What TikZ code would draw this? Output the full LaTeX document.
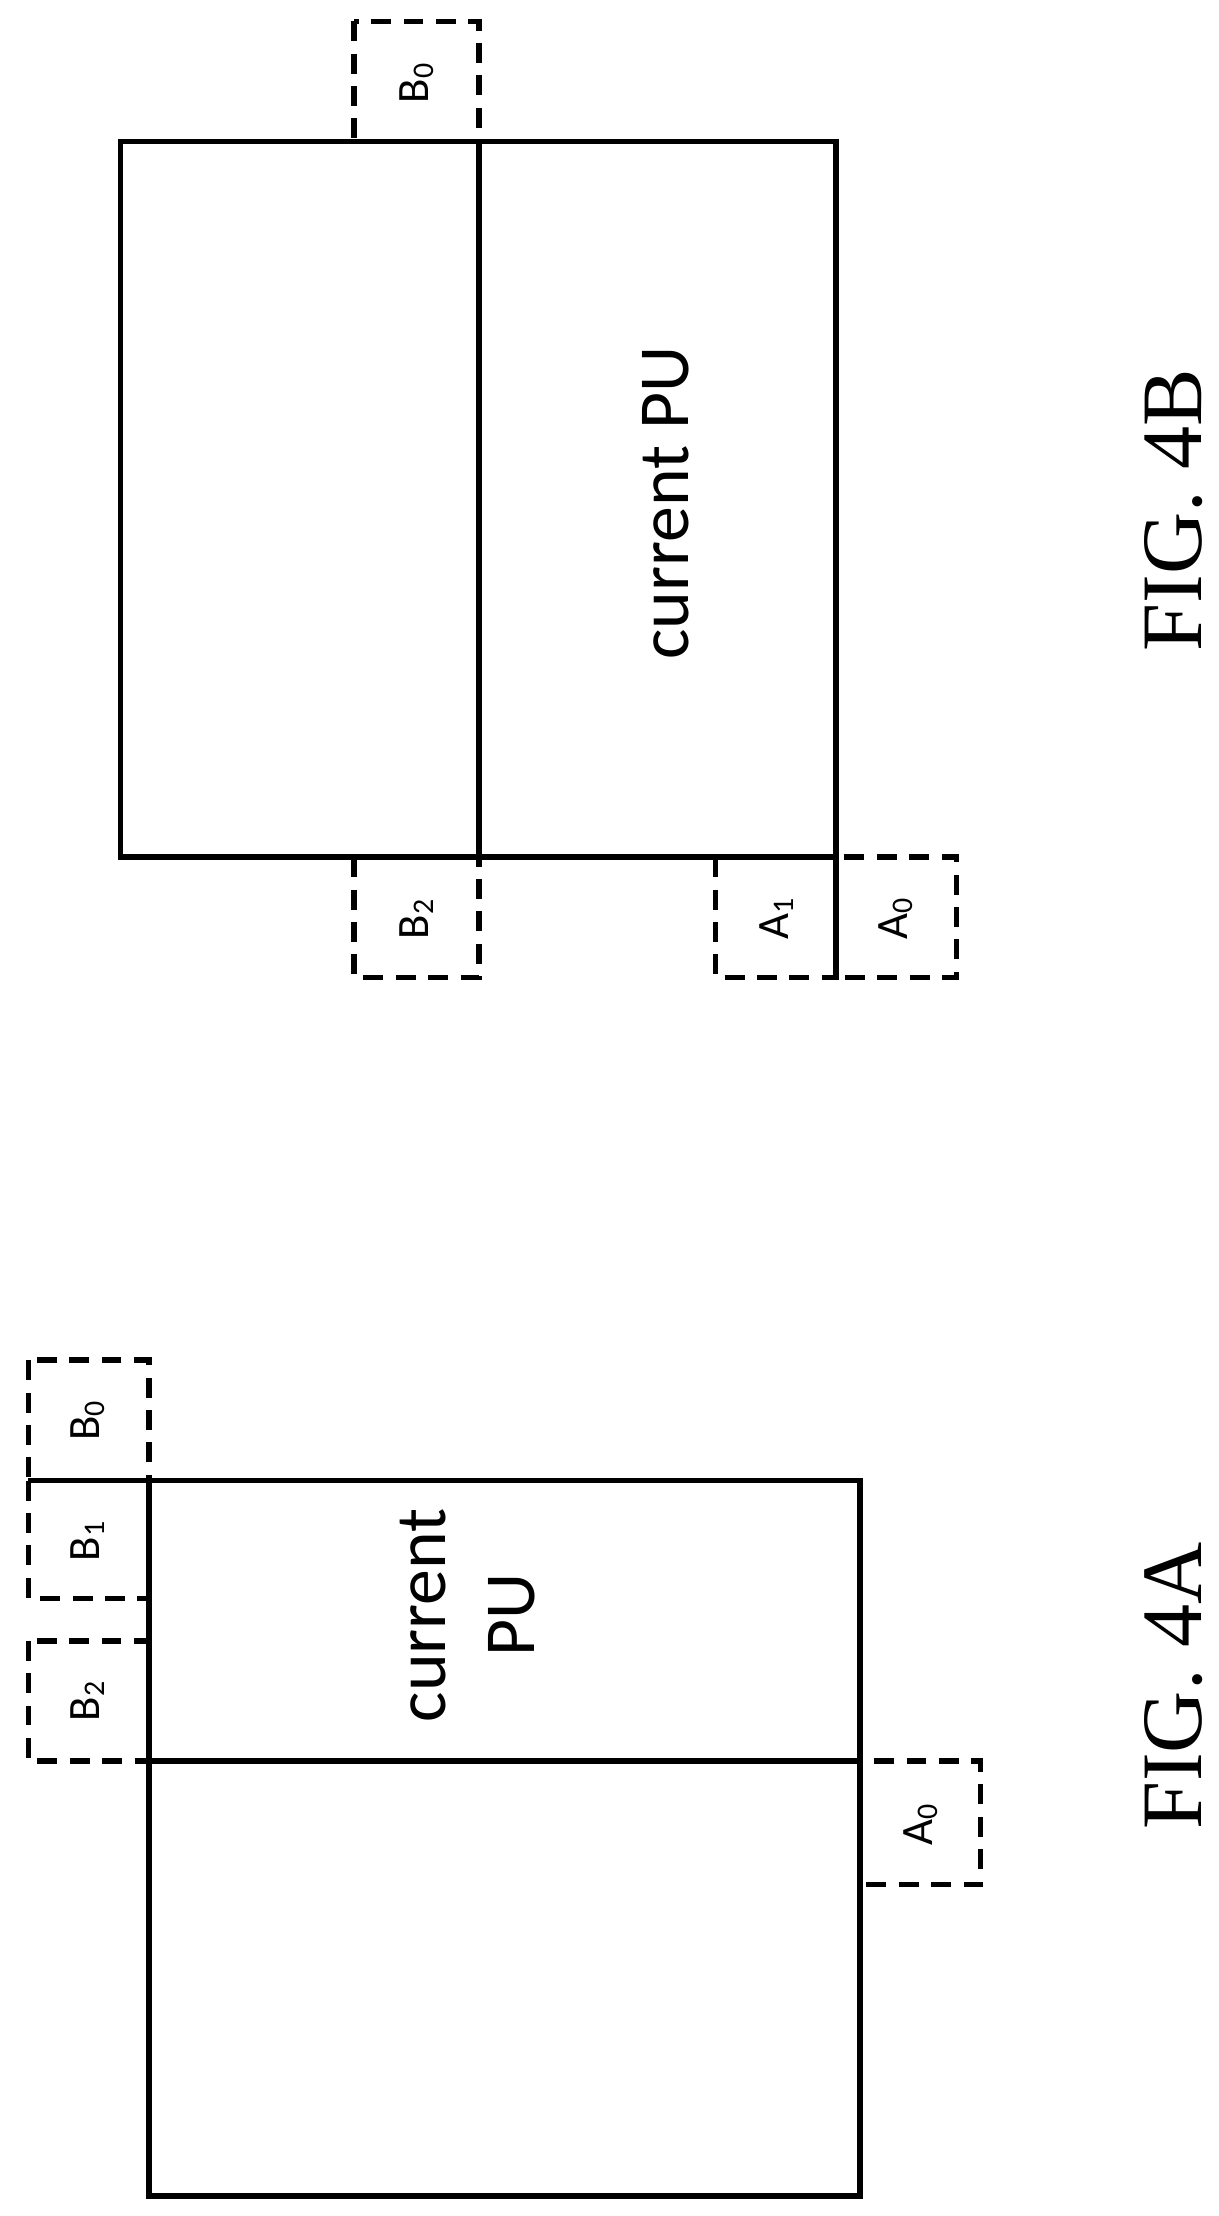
\documentclass[tikz,border=0pt]{standalone}
\usepackage{fontspec}
\setsansfont{Carlito}
\setmainfont{Liberation Serif}
\usetikzlibrary{positioning}
\tikzset {
  % solid block outline
  pu/.style = {
    draw = black,
    line width = 1.1pt
  },
  % neighbouring candidate block
  cand/.style = {
    draw = black,
    dash pattern = on 4pt off 2.5pt,
    line width = 1.1pt
  },
  candlbl/.style = {
    font = \sffamily\small,
    rotate = 90
  },
  lbl/.style = {
    font = \sffamily\Large,
    rotate = 90,
    align = center
  },
  fig/.style = {
    font = \rmfamily\LARGE,
    rotate = 90
  }
}

\begin{document}
\begin{tikzpicture}[x=0.01cm, y=-0.01cm]
  \useasboundingbox (0,0) rectangle (860,1564);

  % FIG. 4A
  \draw[pu] (105,1045) rectangle (607,1550);
  \draw[pu] (105,1243) -- (607,1243);
  \draw[cand] (20,1158) rectangle (105,1243);
  \draw[cand] (607,1243) rectangle (692,1330);
  \draw[cand] (20,1045) rectangle (105,1128);
  \draw[cand] (20,960) rectangle (105,1045);
  \draw[pu] (20,1045) -- (105,1045);
  \node[lbl] (a-pu) at (330,1140) {current\\PU};
  \node[candlbl] (a-b2) at (62,1200) {B\textsubscript{2}};
  \node[candlbl] (a-a0) at (650,1287) {A\textsubscript{0}};
  \node[candlbl] (a-b1) at (62,1087) {B\textsubscript{1}};
  \node[candlbl] (a-b0) at (62,1002) {B\textsubscript{0}};
  \node[fig] (fig-a) at (828,1190) {FIG. 4A};

  % FIG. 4B
  \draw[pu] (85,100) rectangle (590,605);
  \draw[pu] (338,100) -- (338,605);
  \draw[cand] (250,605) rectangle (338,690);
  \draw[cand] (250,15) rectangle (338,100);
  \draw[cand] (505,605) rectangle (590,690);
  \draw[cand] (590,605) rectangle (675,690);
  \node[lbl] (b-pu) at (470,355) {current PU};
  \node[candlbl] (b-b2) at (294,648) {B\textsubscript{2}};
  \node[candlbl] (b-b0) at (294,58) {B\textsubscript{0}};
  \node[candlbl] (b-a1) at (548,648) {A\textsubscript{1}};
  \node[candlbl] (b-a0) at (632,648) {A\textsubscript{0}};
  \node[fig] (fig-b) at (828,360) {FIG. 4B};
\end{tikzpicture}
\end{document}
